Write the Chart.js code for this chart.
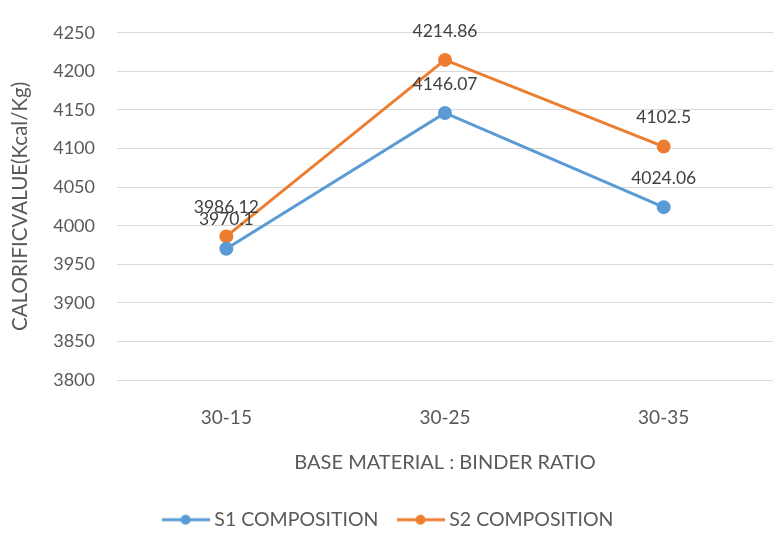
<!DOCTYPE html>
<html>
<head>
<meta charset="utf-8">
<script src="https://cdn.jsdelivr.net/npm/chart.js@4.4.1/dist/chart.umd.min.js"></script>
<style>
  html, body { margin: 0; padding: 0; background: #fff; }
  #wrap { width: 773px; height: 535px; }
</style>
</head>
<body>
<div id="wrap"><canvas id="calorific" width="773" height="535"></canvas></div>
<script>
const ratios = ["30-15", "30-25", "30-35"];
const s1Values = [3970.1, 4146.07, 4024.06];
const s2Values = [3986.12, 4214.86, 4102.5];
const seriesNames = ["S1 COMPOSITION", "S2 COMPOSITION"];
const seriesColors = ["#5B9BD5", "#ED7D31"];
const yTicks = [3800, 3850, 3900, 3950, 4000, 4050, 4100, 4150, 4200, 4250];

const FONT = "Lato, 'Open Sans', sans-serif";
const TEXT = "#595959";

// legend symbol: short line with a dot in the middle
function legendMark(color) {
  const c = document.createElement("canvas");
  c.width = 48; c.height = 12;
  const g = c.getContext("2d");
  g.strokeStyle = color;
  g.lineWidth = 3;
  g.beginPath(); g.moveTo(0, 6); g.lineTo(48, 6); g.stroke();
  g.fillStyle = color;
  g.beginPath(); g.arc(24, 6, 5, 0, Math.PI * 2); g.fill();
  return c;
}

// value labels above each point
const pointLabels = {
  id: "pointLabels",
  afterDatasetsDraw(chart) {
    const ctx = chart.ctx;
    ctx.save();
    ctx.font = "17.5px " + FONT;
    ctx.fillStyle = "#404040";
    ctx.textAlign = "center";
    ctx.textBaseline = "middle";
    chart.data.datasets.forEach(function (ds, i) {
      chart.getDatasetMeta(i).data.forEach(function (pt, j) {
        ctx.fillText(String(ds.data[j]), pt.x, pt.y - 29);
      });
    });
    ctx.restore();
  }
};

const ctx = document.getElementById("calorific").getContext("2d");
new Chart(ctx, {
  type: "line",
  data: {
    labels: ratios,
    datasets: [
      {
        label: seriesNames[0],
        data: s1Values,
        borderColor: seriesColors[0],
        backgroundColor: seriesColors[0],
        borderWidth: 3,
        pointRadius: 5.5,
        tension: 0
      },
      {
        label: seriesNames[1],
        data: s2Values,
        borderColor: seriesColors[1],
        backgroundColor: seriesColors[1],
        borderWidth: 3,
        pointRadius: 5.5,
        tension: 0
      }
    ]
  },
  options: {
    responsive: false,
    animation: false,
    layout: { autoPadding: false, padding: { top: 19, right: -7, bottom: -4.5, left: 0 } },
    scales: {
      x: {
        offset: true,
        afterFit: function (scale) {
          scale.height = 107;
          scale.paddingLeft = 0;
          scale.paddingRight = -7;
        },
        grid: { display: false, drawTicks: false },
        border: { display: true, color: "#d9d9d9", width: 1 },
        ticks: { color: TEXT, font: { family: FONT, size: 19 }, padding: 26 },
        title: {
          display: true,
          text: "BASE MATERIAL : BINDER RATIO",
          color: TEXT,
          font: { family: FONT, size: 20 },
          padding: { top: 0, bottom: 12 }
        }
      },
      y: {
        min: 3800,
        max: 4250,
        afterBuildTicks: function (scale) {
          scale.ticks = yTicks.map(function (v) { return { value: v }; });
        },
        afterFit: function (scale) { scale.width = 117; },
        grid: { color: "#d9d9d9", drawTicks: false },
        border: { display: false },
        ticks: {
          color: TEXT,
          font: { family: FONT, size: 18 },
          padding: 22,
          callback: function (v) { return String(v); }
        },
        title: {
          display: true,
          text: "CALORIFICVALUE(Kcal/Kg)",
          color: TEXT,
          font: { family: FONT, size: 20.5 },
          padding: { top: 8, bottom: 0 }
        }
      }
    },
    plugins: {
      legend: {
        position: "bottom",
        labels: {
          color: TEXT,
          font: { family: FONT, size: 19.5 },
          usePointStyle: true,
          pointStyleWidth: 38,
          padding: 23,
          generateLabels: function (chart) {
            return chart.data.datasets.map(function (ds, i) {
              return {
                text: ds.label,
                fontColor: TEXT,
                pointStyle: legendMark(seriesColors[i]),
                strokeStyle: seriesColors[i],
                fillStyle: seriesColors[i],
                lineWidth: 0,
                datasetIndex: i
              };
            });
          }
        }
      },
      tooltip: { enabled: false }
    }
  },
  plugins: [pointLabels]
});
</script>
</body>
</html>
